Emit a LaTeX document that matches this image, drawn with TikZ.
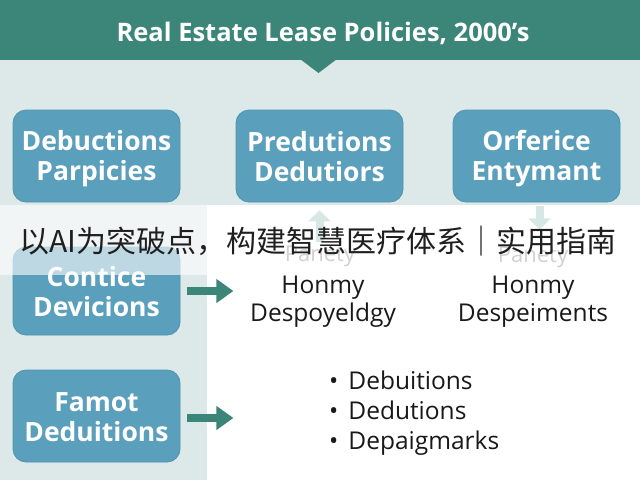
\documentclass[tikz,border=0pt]{standalone}
\usepackage{fontspec}
\setmainfont{Open Sans}
\newfontfamily\cjk{Noto Sans CJK SC}
\usetikzlibrary{arrows.meta}
\definecolor{bg}{HTML}{DDE8E8}
\definecolor{hdrteal}{HTML}{3C8579}
\definecolor{boxblue}{HTML}{5A9FBB}
\definecolor{boxedge}{HTML}{4F94B0}
\definecolor{fadeteal}{HTML}{9CC3C0}
\newcommand{\twol}[2]{\rule{0pt}{25pt}#1\\#2\rule[-5pt]{0pt}{5pt}}
\begin{document}
\begin{tikzpicture}[x=1pt,y=-1pt,
  box/.style={fill=boxblue, draw=boxedge, line width=0.8pt, rounded corners=13pt,
    minimum width=167pt, text=white, font=\bfseries\fontsize{26.5}{30}\selectfont,
    align=center, inner sep=0pt},
  body/.style={font=\fontsize{24.5}{27.5}\selectfont, align=center, text=black!90, inner sep=0pt},
  bigarrow/.style={draw=hdrteal, line width=8pt, -{Triangle[width=23pt,length=17pt]}},
  fadearrow/.style={draw=fadeteal, line width=8pt, -{Triangle[width=22pt,length=11pt]}}]
\useasboundingbox (0,0) rectangle (640,480);
\fill[bg] (0,0) rectangle (640,480);
\fill[white] (207,205) rectangle (640,480);
\fill[hdrteal] (0,0) rectangle (640,60);
\fill[hdrteal] (300,59) -- (337,59) -- (318.5,73) -- cycle;
\node[text=white, font=\bfseries\fontsize{25.5}{28}\selectfont] (title) at (323,33) {Real Estate Lease Policies, 2000’s};

\node[box, minimum height=92pt] (b1) at (96.5,156) {\twol{Debuctions}{Parpicies}};
\node[box, minimum height=92pt] (b2) at (319.5,156) {\twol{Predutions}{Dedutiors}};
\node[box, minimum height=92pt] (b3) at (536.5,156) {\twol{Orferice}{Entymant}};
\node[box, minimum height=88pt] (b4) at (96.5,291) {\twol{Contice}{Devicions}};
\node[box, minimum height=92pt] (b5) at (96.5,416) {\twol{Famot}{Deduitions}};

\node[font=\fontsize{22}{24}\selectfont, text=black!45] (p1) at (320,256) {Panety};
\node[font=\fontsize{22}{24}\selectfont, text=black!45] (p2) at (533,257) {Panety};
\draw[fadearrow] (b2.south |- p1.north) -- ([yshift=-8pt]b2.south);
\draw[fadearrow] ([xshift=3pt,yshift=-4pt]b3.south) -- ([xshift=3pt,yshift=-27pt]b3.south);

\node[body] (h1) at (323,298) {\twol{Honmy}{Despoyeldgy}};
\node[body] (h2) at (533,298) {\twol{Honmy}{Despeiments}};

\draw[bigarrow] ([xshift=7pt]b4.east) -- ([xshift=53pt]b4.east);
\draw[bigarrow] ([xshift=7pt,yshift=-2pt]b5.east) -- ([xshift=53pt,yshift=-2pt]b5.east);

\node[anchor=west, font=\fontsize{24.5}{30}\selectfont, align=left, text=black!90, inner sep=0pt] (list) at (329,413)
  {\strut•\hspace{10pt}Debuitions\\\strut•\hspace{10pt}Dedutions\\\strut•\hspace{10pt}Depaigmarks};

\fill[white, opacity=0.6] (0,205) rectangle (640,275);
\node[font=\cjk\fontsize{30}{34}\selectfont, text=black!88] (cn) at (318,241) {以AI为突破点，构建智慧医疗体系｜实用指南};
\end{tikzpicture}
\end{document}
